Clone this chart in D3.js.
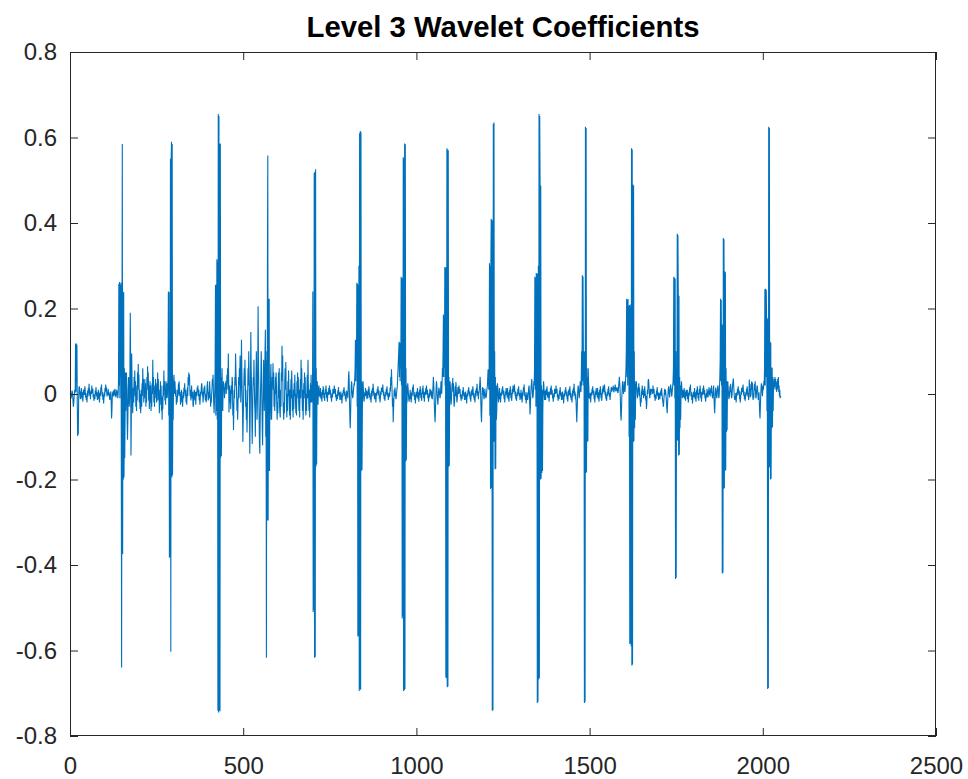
<!DOCTYPE html>
<html>
<head>
<meta charset="utf-8">
<script src="https://cdn.jsdelivr.net/npm/d3@7"></script>
<style>
  html, body { margin: 0; padding: 0; background: #ffffff; }
  svg { display: block; }
  text { font-family: "Liberation Sans", Arial, Helvetica, sans-serif; }
</style>
</head>
<body>
<svg id="chart" width="968" height="779"></svg>
<script>
// ---------------- data ----------------
const chartTitle = "Level 3 Wavelet Coefficients";
const xDomain = [0, 2500];
const yDomain = [-0.8, 0.8];
const xTicks = [0, 500, 1000, 1500, 2000, 2500];
const xTickLabels = ["0", "500", "1000", "1500", "2000", "2500"];
const yTicks = [-0.8, -0.6, -0.4, -0.2, 0, 0.2, 0.4, 0.6, 0.8];
const yTickLabels = ["-0.8", "-0.6", "-0.4", "-0.2", "0", "0.2", "0.4", "0.6", "0.8"];

// level-3 detail coefficients, one per sample, in thousandths
const coefMilli = [
2,-4,-10,-6,2,8,4,-8,-22,-30,-20,-5,5,10,3,118,5,118,30,115,
-20,-98,-40,-95,-10,15,18,10,-2,-12,6,-8,14,0,-12,4,-18,-6,10,-2,
12,-2,18,6,-8,2,-14,-6,-20,-4,8,-6,14,2,24,10,-4,6,-12,0,
10,0,20,6,2,12,-8,0,-16,-6,-2,-12,8,-2,16,4,-6,4,-14,-2,
-4,10,-12,2,-20,-8,6,-4,16,8,22,6,-6,4,-14,-2,-22,-10,4,-6,
14,4,22,8,16,2,-6,4,-2,12,6,-4,4,-10,-14,-2,0,6,-20,-57,
-40,-10,4,-4,8,-6,2,10,-2,12,-6,2,-8,4,10,-2,6,-10,2,30,
258,20,262,-10,255,40,260,-80,-640,120,585,-374,240,-200,238,-195,60,-150,-60,50,
-40,20,50,10,-60,-107,-60,10,40,20,-30,-10,60,190,80,-144,-60,95,40,-20,
-45,-10,15,-20,40,10,55,-5,30,-30,-5,-40,20,-15,50,10,70,20,45,-20,
10,-35,0,-45,-25,10,-30,25,-5,60,20,35,-20,5,-10,35,0,25,-30,5,
-20,40,10,65,20,50,-15,20,-35,-5,30,-20,20,-40,-5,-30,25,0,80,10,
40,-20,10,-30,20,-10,35,0,25,-20,10,-15,50,10,35,-15,10,-45,-5,-25,
30,-10,20,-40,-10,-60,-5,-35,20,-5,55,15,30,-15,5,-25,30,-10,25,-10,
-5,15,40,240,-50,238,-383,120,-380,550,-603,548,590,-195,585,-190,20,-60,30,45,
25,0,30,10,-5,10,-25,-5,-20,-10,10,-5,25,0,30,10,-5,5,-25,-5,
-10,10,-20,-5,-30,-10,5,-10,15,5,25,5,-5,10,-20,-5,-25,0,15,-5,
40,20,50,30,45,10,-5,10,-15,0,20,-5,-10,5,-25,-30,-10,5,10,-10,
-15,5,-25,-5,5,-5,15,5,20,5,-5,10,-15,0,-25,-10,5,0,15,25,
20,-5,5,-20,-10,5,15,0,20,-5,-15,0,-20,-10,5,20,30,10,-15,-10,
5,-10,30,10,-5,-30,-10,-20,0,15,35,20,45,5,-25,-45,-15,10,60,255,
-50,256,-40,315,-60,310,-741,655,-745,650,-740,585,-742,586,-149,40,-145,20,60,-20,
-40,10,30,10,15,-10,5,25,15,30,0,20,45,30,60,10,95,40,-43,-10,
20,-20,10,-35,-10,20,0,40,30,-50,-20,-84,-30,10,-10,40,20,95,50,30,
0,-40,-10,-60,-20,10,40,-10,60,20,90,40,-20,30,127,60,10,-40,-112,-60,
-20,30,60,20,80,40,-30,10,-60,-20,-90,-40,10,60,20,100,50,-10,-140,-60,
20,145,60,20,-50,-117,-60,0,40,20,80,30,-20,-40,-100,-30,40,100,30,-60,
-20,60,205,80,20,-60,-117,-140,-60,0,40,100,60,-20,-80,-120,-40,20,80,30,
-40,30,100,150,-100,80,-617,100,-296,300,558,-296,223,-180,223,-180,20,-60,40,70,
-20,-60,-10,40,20,72,10,50,-30,10,-40,-10,40,0,50,20,-30,-60,-20,-45,
10,50,-10,60,-30,-45,-55,10,-30,50,30,113,40,90,-20,-40,-60,-20,-45,30,
60,10,75,20,-30,-55,0,-40,30,-5,55,10,-20,-50,10,-60,0,35,-10,55,
20,-40,-10,-55,10,-35,25,-5,45,10,-20,-45,0,-50,30,-10,50,0,40,-15,
-40,10,-55,0,35,-10,80,20,60,-5,-40,10,-60,-20,25,-10,50,0,40,-35,
-50,0,-40,15,45,-10,80,25,-10,-40,10,-55,-5,25,-20,45,5,-20,20,-10,
240,-510,50,-505,517,-617,520,-615,526,-170,60,-165,10,30,-20,-25,5,20,15,-5,
6,-8,14,0,-12,4,-18,-6,10,-2,18,4,-10,2,-16,-4,12,0,20,6,
-10,4,-18,-4,6,-2,14,0,20,8,-2,10,-10,-2,-18,-6,2,-8,12,4,
10,0,20,6,2,12,-8,0,-16,-6,-2,-12,8,-2,16,4,-6,4,-14,-2,
-6,6,-14,-2,-22,-8,2,-6,10,2,16,4,-4,6,-12,-4,-18,-2,8,-4,
0,-10,10,40,53,30,-20,-60,-80,-50,-10,20,30,15,0,-10,-5,5,15,25,
20,35,60,127,30,125,60,260,-30,258,-567,255,-565,300,-695,610,-690,615,-692,612,
-180,30,-178,-40,20,30,10,-10,-18,-8,4,-6,14,2,-4,8,-12,-2,6,-10,
12,-2,18,6,-8,2,-14,-6,-20,-4,8,-6,14,2,24,10,-4,6,-12,0,
-12,2,-20,-6,4,-4,12,2,18,6,-2,8,-12,-2,-20,-8,6,-2,14,4,
16,4,22,8,-4,6,-12,-2,-16,-6,4,-4,12,0,18,6,-6,2,-14,-4,
-8,4,-6,16,6,40,20,58,30,0,-30,-10,-66,-40,-10,10,-5,15,5,-5,
-12,-6,4,12,20,40,60,80,100,122,40,120,30,110,60,274,20,270,-525,272,
-520,554,-695,550,-693,586,-690,584,-158,60,-155,20,-20,10,25,15,0,-12,-18,-8,
-4,10,-12,2,-20,-8,6,-4,16,8,22,6,-6,4,-14,-2,-22,-10,4,-6,
6,-8,14,0,-12,4,-18,-6,10,-2,18,4,-10,2,-16,-4,12,0,20,6,
-10,4,-18,-4,6,-2,14,0,20,8,-2,10,-10,-2,-18,-6,2,-8,12,4,
10,-4,8,-10,4,-12,4,20,40,25,0,-30,-50,-66,-40,-10,15,30,20,0,
-15,-25,-10,5,15,10,0,-10,-5,10,30,20,0,20,60,40,100,186,40,180,
60,297,20,295,-663,297,-665,575,-686,572,-684,570,-170,40,-168,10,30,20,-10,-25,
-15,5,25,10,38,5,25,-15,-30,-20,0,18,-5,28,15,-5,-20,-12,4,16,
10,0,20,6,2,12,-8,0,-16,-6,-2,-12,8,-2,16,4,-6,4,-14,-2,
-6,6,-14,-2,-22,-8,2,-6,10,2,16,4,-4,6,-12,-4,-18,-2,8,-4,
12,-2,18,6,-8,2,-14,-6,-20,-4,8,-6,14,2,24,10,-4,6,-12,0,
4,14,25,40,20,-20,-50,-66,-30,4,16,-2,14,0,-12,-8,4,12,-6,-4,
-10,-4,6,14,20,40,58,30,10,60,306,-50,300,-222,305,410,-220,407,-741,405,
-740,632,-112,635,-110,100,-176,40,-175,20,-60,-40,10,25,15,-5,-20,-12,4,14,
-12,2,-20,-6,4,-4,12,2,18,6,-2,8,-12,-2,-20,-8,6,-2,14,4,
6,-8,14,0,-12,4,-18,-6,10,-2,18,4,-10,2,-16,-4,12,0,20,6,
16,4,22,8,-4,6,-12,-2,-16,-6,4,-4,12,0,18,6,-6,2,-14,-4,
-4,10,-12,2,-20,-8,6,-4,16,8,22,6,-6,4,-14,-2,-22,-10,4,-6,
-14,-10,0,12,20,10,-20,-48,-30,-5,15,25,35,20,0,-10,-5,10,30,20,
60,274,10,272,-30,283,-20,280,-723,282,-720,300,-668,655,-665,650,490,-200,488,-198,
20,-185,10,-180,-40,10,30,20,0,-14,-6,8,-14,2,12,-2,18,4,-8,6,
-10,4,-18,-4,6,-2,14,0,20,8,-2,10,-10,-2,-18,-6,2,-8,12,4,
10,0,20,6,2,12,-8,0,-16,-6,-2,-12,8,-2,16,4,-6,4,-14,-2,
-6,6,-14,-2,-22,-8,2,-6,10,2,16,4,-4,6,-12,-4,-18,-2,8,-4,
12,-2,18,6,-8,2,-14,-6,-20,-4,8,-6,14,2,24,10,-4,6,-12,0,
-20,-45,-66,-40,-10,10,20,12,0,-10,0,15,30,20,5,40,100,20,278,30,
275,100,20,100,-723,98,-720,625,-185,622,-183,60,-112,40,-110,60,30,10,-10,-5,
-12,2,-20,-6,4,-4,12,2,18,6,-2,8,-12,-2,-20,-8,6,-2,14,4,
6,-8,14,0,-12,4,-18,-6,10,-2,18,4,-10,2,-16,-4,12,0,20,6,
16,4,22,8,-4,6,-12,-2,-16,-6,4,-4,12,0,18,6,-6,2,-14,-4,
4,12,16,6,8,14,10,20,12,4,8,16,14,22,10,6,14,8,16,12,
6,2,8,20,30,40,25,10,-20,-50,-62,-40,-10,10,30,20,10,0,15,30,
20,5,15,35,60,100,223,40,220,20,222,80,205,-100,208,-585,205,-583,210,-590,
575,-635,572,-633,490,-112,488,-110,100,-80,30,-60,10,20,30,15,0,-10,0,15,
10,25,-5,15,0,-15,-30,-10,-20,5,10,20,-2,12,0,-10,8,-5,18,6,
0,-15,-5,-35,-25,-5,10,0,30,35,25,10,-5,-10,6,12,-2,12,6,10,
10,0,20,6,2,12,-8,0,-16,-6,-2,-12,8,-2,16,4,-6,4,-14,-2,
2,-6,-12,4,2,10,-4,14,0,-8,-16,-22,-30,-20,-6,6,12,-2,10,2,
-8,-20,-35,-45,-25,-5,10,18,10,0,-8,4,16,22,14,4,-6,0,12,20,
30,60,274,20,272,-10,270,-433,100,-430,60,-110,375,-108,372,232,-144,230,-142,40,
-80,20,-60,10,30,20,0,-10,-4,10,4,-8,14,0,-12,6,-16,-2,10,-4,
-4,10,-12,2,-20,-8,6,-4,16,8,22,6,-6,4,-14,-2,-22,-10,4,-6,
6,-8,14,0,-12,4,-18,-6,10,-2,18,4,-10,2,-16,-4,12,0,20,6,
-10,4,-18,-4,6,-2,14,0,20,8,-2,10,-10,-2,-18,-6,2,-8,12,4,
0,-8,6,8,16,-2,10,-6,4,14,2,20,4,-6,-10,-4,10,20,0,-30,
-45,-25,0,15,10,0,-10,-5,10,20,15,5,-10,-5,15,40,80,223,30,220,
20,163,-420,160,-418,365,-222,362,-220,287,-180,285,-178,60,-89,30,-85,10,30,15,
0,-12,6,-8,18,4,24,14,0,-10,-4,10,22,30,36,20,4,-8,-14,-6,
-12,2,-20,-6,4,-4,12,2,18,6,-2,8,-12,-2,-20,-8,6,-2,14,4,
16,4,22,8,-4,6,-12,-2,-16,-6,4,-4,12,0,18,6,-6,2,-14,-4,
34,10,24,-8,4,-4,18,30,10,26,-6,-14,2,-10,14,24,8,30,2,-10,
-6,6,16,20,10,-4,-14,-8,4,-20,-45,-57,-30,-5,15,25,20,5,-5,10,
20,10,30,20,60,245,20,246,40,244,177,-40,175,-690,178,-688,625,-172,622,-170,
122,-200,120,-198,60,-80,62,-78,40,-40,30,10,35,15,40,20,35,10,25,5,
30,10,35,15,40,5,20,-5,10,-10,-5,-8
];

// ---------------- layout ----------------
const plot = { left: 70, right: 936, top: 52, bottom: 736 };
const axisColor = "#262626";
const lineColor = "#0072BD";

const svg = d3.select("#chart");

const x = d3.scaleLinear().domain(xDomain).range([plot.left, plot.right]);
const y = d3.scaleLinear().domain(yDomain).range([plot.bottom, plot.top]);

svg.append("rect")
  .attr("x", plot.left).attr("y", plot.top)
  .attr("width", plot.right - plot.left).attr("height", plot.bottom - plot.top)
  .attr("fill", "#ffffff");

// data line (MATLAB sample index starts at 1)
const series = coefMilli.map((v, i) => ({ n: i + 1, v: v / 1000 }));
const line = d3.line().x(d => x(d.n)).y(d => y(d.v));

svg.append("path")
  .datum(series)
  .attr("fill", "none")
  .attr("stroke", lineColor)
  .attr("stroke-width", 1.1)
  .attr("stroke-linejoin", "miter")
  .attr("d", line);

const tickLen = 8;
const fontSize = 24;

function styleAxis(g) {
  g.select(".domain").remove();
  g.selectAll(".tick line").attr("stroke", axisColor).attr("stroke-width", 1);
  g.selectAll(".tick text")
    .attr("fill", axisColor)
    .style("font-size", fontSize + "px")
    .style("font-family", '"Liberation Sans", Arial, Helvetica, sans-serif');
}

svg.append("g")
  .attr("transform", `translate(0,${plot.bottom})`)
  .call(d3.axisBottom(x).tickValues(xTicks).tickSize(-tickLen).tickPadding(21)
    .tickFormat((d, i) => xTickLabels[i]))
  .call(styleAxis);

svg.append("g")
  .attr("transform", `translate(0,${plot.top})`)
  .call(d3.axisTop(x).tickValues(xTicks).tickSize(-tickLen).tickFormat(""))
  .call(styleAxis);

svg.append("g")
  .attr("transform", `translate(${plot.left},0)`)
  .call(d3.axisLeft(y).tickValues(yTicks).tickSize(-tickLen).tickPadding(13)
    .tickFormat((d, i) => yTickLabels[i]))
  .call(styleAxis);

svg.append("g")
  .attr("transform", `translate(${plot.right},0)`)
  .call(d3.axisRight(y).tickValues(yTicks).tickSize(-tickLen).tickFormat(""))
  .call(styleAxis);

svg.append("rect")
  .attr("x", plot.left + 0.5).attr("y", plot.top + 0.5)
  .attr("width", plot.right - plot.left - 1).attr("height", plot.bottom - plot.top - 1)
  .attr("fill", "none")
  .attr("stroke", axisColor)
  .attr("stroke-width", 1);

svg.append("text")
  .attr("x", (plot.left + plot.right) / 2)
  .attr("y", 37)
  .attr("text-anchor", "middle")
  .attr("fill", "#000000")
  .style("font-size", "29.3px")
  .style("font-weight", "bold")
  .text(chartTitle);
</script>
</body>
</html>
